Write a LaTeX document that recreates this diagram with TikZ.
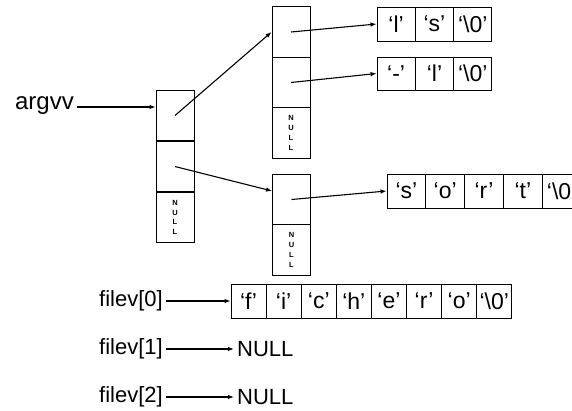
\documentclass[tikz,border=0pt]{standalone}
\usepackage{fontspec}
\setmainfont{Liberation Sans}
\usetikzlibrary{arrows.meta}
\tikzset{
  box/.style={draw, line width=0.9pt, inner sep=0pt, minimum width=38pt, minimum height=50.5pt},
  chr/.style={draw, line width=0.9pt, inner sep=0pt, minimum height=34pt, font=\fontsize{23}{24}\selectfont},
  vnull/.style={align=center, font=\fontsize{7.5}{9.8}\selectfont\bfseries},
  lbl/.style={font=\fontsize{22}{24}\selectfont, inner sep=3pt},
  arr/.style={line width=1.1pt, -{Latex[length=6pt,width=4.5pt]}},
}
\begin{document}
\begin{tikzpicture}[x=1pt,y=-1pt]
\useasboundingbox (0,0) rectangle (572,410);
\clip (0,0) rectangle (572,410);
% main argv array
\node[box] (m1) at (175,115.5) {};
\node[box] (m2) at (175,166.5) {};
\node[box] (m3) at (175,217.5) {};
\node[vnull] (n3) at (m3.center) {N\\U\\L\\L};
% first sub-array
\node[box] (a1) at (291,32) {};
\node[box] (a2) at (291,82.5) {};
\node[box] (a3) at (291,133) {};
\node[vnull] (na) at (a3.center) {N\\U\\L\\L};
% second sub-array
\node[box] (b1) at (291.5,199.5) {};
\node[box] (b2) at (291.5,250) {};
\node[vnull] (nb) at (b2.center) {N\\U\\L\\L};
% strings
\foreach \t [count=\i] in {{‘l’},{‘s’},{‘\textbackslash0’}}
  \node[chr, minimum width=38.3pt] (s1\i) at ({377+38.3*(\i-0.5)},24) {\t};
\foreach \t [count=\i] in {{‘-’},{‘l’},{‘\textbackslash0’}}
  \node[chr, minimum width=38.3pt, minimum height=33pt] (s2\i) at ({377+38.3*(\i-0.5)},73.5) {\t};
\foreach \t [count=\i] in {{‘s’},{‘o’},{‘r’},{‘t’},{‘\textbackslash0’}}
  \node[chr, minimum width=38.8pt] (s3\i) at ({387+38.8*(\i-0.5)},191) {\t};
\foreach \t [count=\i] in {{‘f’},{‘i’},{‘c’},{‘h’},{‘e’},{‘r’},{‘o’},{‘\textbackslash0’}}
  \node[chr, minimum width=35.1pt] (f\i) at ({231+35.1*(\i-0.5)},301) {\t};
% labels
\node[lbl, font=\fontsize{24}{26}\selectfont, anchor=mid east] (argvv) at (77,107) {argvv};
\node[lbl, anchor=east] (fv0) at (166,301) {filev[0]};
\node[lbl, anchor=east] (fv1) at (166,349) {filev[1]};
\node[lbl, anchor=east] (fv2) at (166,397) {filev[2]};
\node[lbl, anchor=west] (null1) at (234,349) {NULL};
\node[lbl, anchor=west] (null2) at (234,397) {NULL};
% connectors
\draw[arr] (argvv.mid east) -- ([yshift=8.5pt]m1.west);
\draw[arr] (m1.center) -- (a1.west);
\draw[arr] (m2.center) -- ([yshift=8.5pt]b1.west);
\draw[arr] (a1.center) -- (s11.west);
\draw[arr] (a2.center) -- (s21.west);
\draw[arr] (b1.center) -- (s31.west);
\draw[arr] (fv0.east) -- (f1.west);
\draw[arr] (fv1.east) -- (null1.west);
\draw[arr] (fv2.east) -- (null2.west);
\end{tikzpicture}
\end{document}
